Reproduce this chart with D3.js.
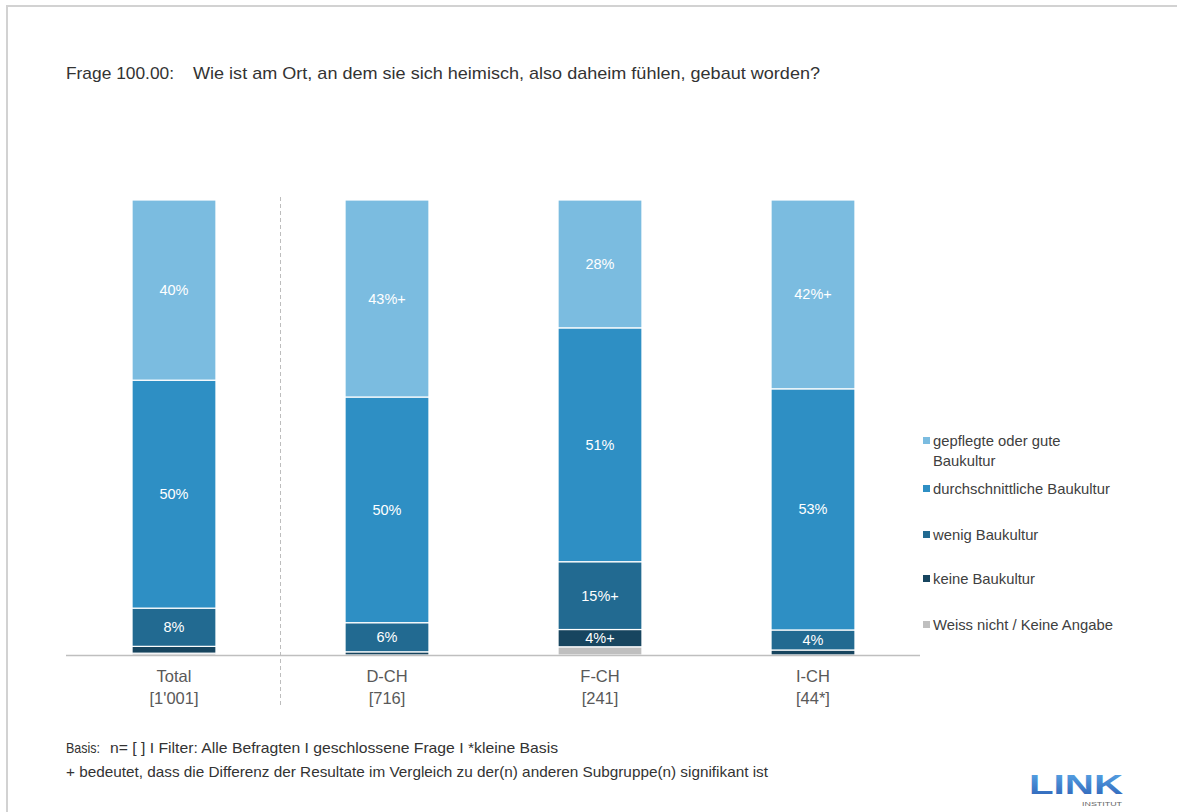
<!DOCTYPE html>
<html>
<head>
<meta charset="utf-8">
<script src="https://cdn.jsdelivr.net/npm/d3@7"></script>
<style>
  body { margin: 0; background: #fff; }
  svg text { font-family: "Liberation Sans", Arial, sans-serif; }
</style>
</head>
<body>
<div id="chart"></div>
<script>
// data
const groups = ["Total", "D-CH", "F-CH", "I-CH"];
const bases = ["[1'001]", "[716]", "[241]", "[44*]"];
const seriesNames = ["gepflegte oder gute Baukultur", "durchschnittliche Baukultur", "wenig Baukultur", "keine Baukultur", "Weiss nicht / Keine Angabe"];
const legendLines = [["gepflegte oder gute", "Baukultur"], ["durchschnittliche Baukultur"], ["wenig Baukultur"], ["keine Baukultur"], ["Weiss nicht / Keine Angabe"]];
// values per series, in order of groups
const gut = [39.6, 43.3, 28.1, 41.5];
const durchschnitt = [50.1, 49.6, 51.4, 53.0];
const wenig = [8.4, 6.4, 14.9, 4.4];
const keine = [1.5, 0.7, 3.8, 1.1];
const weissNicht = [0.4, 0.0, 1.8, 0.0];
// significance marks (+)
const sigGut = [false, true, false, true];
const sigDurch = [false, false, false, false];
const sigWenig = [false, false, true, false];
const sigKeine = [false, false, true, false];
const sigWeiss = [false, false, false, false];

const colors = ["#7bbce0", "#2e8fc4", "#226a91", "#17455f", "#bfbfbf"];

const svgObj = { width: 1177, height: 812 };
const plot = { left: 67.5, right: 919.5, top: 200, bottom: 655 };

const svg = d3.select("#chart").append("svg")
  .attr("width", svgObj.width)
  .attr("height", svgObj.height);

// frame
svg.append("rect")
  .attr("x", 7).attr("y", 6)
  .attr("width", 1200).attr("height", 900)
  .attr("fill", "none")
  .attr("stroke", "#d2d2d2")
  .attr("stroke-width", 2);

// title
svg.append("text")
  .attr("x", 66).attr("y", 79)
  .attr("font-size", 17)
  .attr("fill", "#333")
  .attr("textLength", 108)
  .attr("lengthAdjust", "spacingAndGlyphs")
  .text("Frage 100.00:");
svg.append("text")
  .attr("x", 193).attr("y", 79)
  .attr("font-size", 17)
  .attr("fill", "#333")
  .attr("textLength", 627)
  .attr("lengthAdjust", "spacingAndGlyphs")
  .text("Wie ist am Ort, an dem sie sich heimisch, also daheim fühlen, gebaut worden?");

const x = d3.scaleBand()
  .domain(groups)
  .range([plot.left, plot.right])
  .paddingInner(0.606)
  .paddingOuter(0.303);

const y = d3.scaleLinear().domain([0, 100]).range([plot.bottom, plot.top]);

const table = [weissNicht, keine, wenig, durchschnitt, gut];
const sigTable = [sigWeiss, sigKeine, sigWenig, sigDurch, sigGut];
const colorIdx = [4, 3, 2, 1, 0];

const rows = groups.map((g, i) => {
  const r = { group: g };
  table.forEach((arr, k) => { r["s" + k] = arr[i]; });
  return r;
});
const stack = d3.stack().keys(table.map((_, k) => "s" + k))(rows);

const barGroup = svg.append("g");
stack.forEach((layer, k) => {
  layer.forEach((d, i) => {
    const v = d[1] - d[0];
    if (v <= 0) return;
    barGroup.append("rect")
      .attr("x", x(groups[i]))
      .attr("y", y(d[1]))
      .attr("width", x.bandwidth())
      .attr("height", y(d[0]) - y(d[1]))
      .attr("fill", colors[colorIdx[k]])
      .attr("stroke", "#fff")
      .attr("stroke-width", 1.2);
    if (v >= 3) {
      barGroup.append("text")
        .attr("x", x(groups[i]) + x.bandwidth() / 2)
        .attr("y", (y(d[0]) + y(d[1])) / 2)
        .attr("text-anchor", "middle")
        .attr("dominant-baseline", "central")
        .attr("font-size", 14.5)
        .attr("fill", "#fff")
        .text(Math.round(v) + "%" + (sigTable[k][i] ? "+" : ""));
    }
  });
});

// baseline
svg.append("line")
  .attr("x1", 66).attr("x2", 920)
  .attr("y1", plot.bottom + 0.5).attr("y2", plot.bottom + 0.5)
  .attr("stroke", "#bfbfbf")
  .attr("stroke-width", 1.3);

// dashed divider between Total and regions
const divX = (x("Total") + x.bandwidth() + x("D-CH")) / 2;
svg.append("line")
  .attr("x1", divX).attr("x2", divX)
  .attr("y1", 197).attr("y2", 706)
  .attr("stroke", "#bdbdbd")
  .attr("stroke-width", 1)
  .attr("stroke-dasharray", "4,3");

// category labels
groups.forEach((g, i) => {
  const cx = x(g) + x.bandwidth() / 2;
  svg.append("text")
    .attr("x", cx).attr("y", 682)
    .attr("text-anchor", "middle")
    .attr("font-size", 16.5)
    .attr("fill", "#595959")
    .text(g);
  svg.append("text")
    .attr("x", cx).attr("y", 704)
    .attr("text-anchor", "middle")
    .attr("font-size", 16.5)
    .attr("fill", "#595959")
    .text(bases[i]);
});

// legend
const legendY = [441, 489, 535, 579, 625];
legendLines.forEach((lines, i) => {
  svg.append("rect")
    .attr("x", 923).attr("y", legendY[i] - 4)
    .attr("width", 7).attr("height", 7)
    .attr("fill", colors[i]);
  lines.forEach((t, j) => {
    svg.append("text")
      .attr("x", 933).attr("y", legendY[i] + j * 20)
      .attr("dominant-baseline", "central")
      .attr("font-size", 14.8)
      .attr("fill", "#404040")
      .text(t);
  });
});

// footnotes
svg.append("text").attr("x", 66).attr("y", 753)
  .attr("font-size", 14.5).attr("fill", "#333")
  .attr("textLength", 34).attr("lengthAdjust", "spacingAndGlyphs")
  .text("Basis:");
svg.append("text").attr("x", 110).attr("y", 753)
  .attr("font-size", 14.5).attr("fill", "#333")
  .attr("textLength", 448).attr("lengthAdjust", "spacingAndGlyphs")
  .text("n= [ ] I Filter: Alle Befragten I geschlossene Frage I *kleine Basis");
svg.append("text").attr("x", 66).attr("y", 777)
  .attr("font-size", 14.5).attr("fill", "#333")
  .attr("textLength", 702).attr("lengthAdjust", "spacingAndGlyphs")
  .text("+ bedeutet, dass die Differenz der Resultate im Vergleich zu der(n) anderen Subgruppe(n) signifikant ist");

// logo
const defs = svg.append("defs");
const grad = defs.append("linearGradient").attr("id", "linkGrad")
  .attr("x1", 0).attr("y1", 0).attr("x2", 0).attr("y2", 1);
grad.append("stop").attr("offset", "0%").attr("stop-color", "#5aa8e8");
grad.append("stop").attr("offset", "100%").attr("stop-color", "#2c5fb5");
svg.append("text")
  .attr("x", 1029).attr("y", 794)
  .attr("font-size", 27)
  .attr("font-weight", "bold")
  .attr("font-family", "'DejaVu Sans Condensed', 'Liberation Sans Narrow', sans-serif")
  .attr("textLength", 94)
  .attr("lengthAdjust", "spacingAndGlyphs")
  .attr("fill", "url(#linkGrad)")
  .text("LINK");
svg.append("text")
  .attr("x", 1082).attr("y", 806)
  .attr("font-size", 6)
  .attr("textLength", 40)
  .attr("lengthAdjust", "spacingAndGlyphs")
  .attr("fill", "#666")
  .text("INSTITUT");
</script>
</body>
</html>
